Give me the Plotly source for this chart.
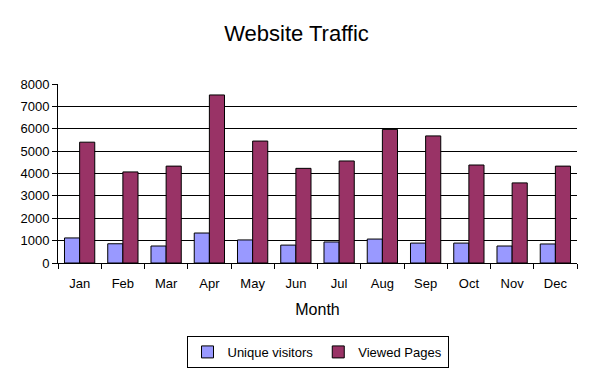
import plotly.graph_objects as go

months = ["Jan", "Feb", "Mar", "Apr", "May", "Jun", "Jul", "Aug", "Sep", "Oct", "Nov", "Dec"]
unique_visitors = [1120, 860, 760, 1340, 1030, 800, 940, 1070, 890, 890, 760, 850]
viewed_pages = [5400, 4070, 4330, 7510, 5450, 4230, 4560, 5970, 5680, 4380, 3580, 4330]
y_ticks = [0, 1000, 2000, 3000, 4000, 5000, 6000, 7000, 8000]

FONT = "Liberation Sans, Arial, sans-serif"

fig = go.Figure()
fig.add_trace(go.Bar(name="Unique visitors", x=months, y=unique_visitors,
                     marker=dict(color="#9999FF", line=dict(color="black", width=1))))
fig.add_trace(go.Bar(name="Viewed Pages", x=months, y=viewed_pages,
                     marker=dict(color="#993366", line=dict(color="black", width=1))))

fig.update_layout(
    width=593, height=370,
    margin=dict(l=58, r=16, t=84, b=107, autoexpand=False),
    paper_bgcolor="white", plot_bgcolor="white",
    font=dict(family=FONT, size=13, color="black"),
    title=dict(text="Website Traffic", x=0.5, xanchor="center", y=0.91, yanchor="middle",
               yref="container", font=dict(family=FONT, size=22, color="black")),
    barmode="group", bargap=0.3, bargroupgap=0,
    showlegend=True,
    legend=dict(orientation="h", x=0.5, xanchor="center", xref="paper",
                y=0.092, yanchor="top", yref="container",
                bordercolor="black", borderwidth=1, font=dict(family=FONT, size=13),
                itemwidth=30, tracegroupgap=0),
    xaxis=dict(showline=True, linecolor="black", linewidth=1, ticks="outside",
               tickson="boundaries", ticklen=5, tickcolor="black", showgrid=False,
               automargin=False, ticklabelstandoff=8,
               title=dict(text="Month", font=dict(family=FONT, size=16), standoff=14),
               tickfont=dict(family=FONT, size=13)),
    yaxis=dict(range=[0, 8000], tickvals=y_ticks, showline=True, linecolor="black",
               linewidth=1, ticks="outside", ticklen=5, tickcolor="black",
               showgrid=True, gridcolor="black", gridwidth=1, zeroline=False,
               automargin=False, tickfont=dict(family=FONT, size=13)),
)

fig.write_html("out.html", config={"displayModeBar": False},
               post_script="document.body.style.margin='0';")
